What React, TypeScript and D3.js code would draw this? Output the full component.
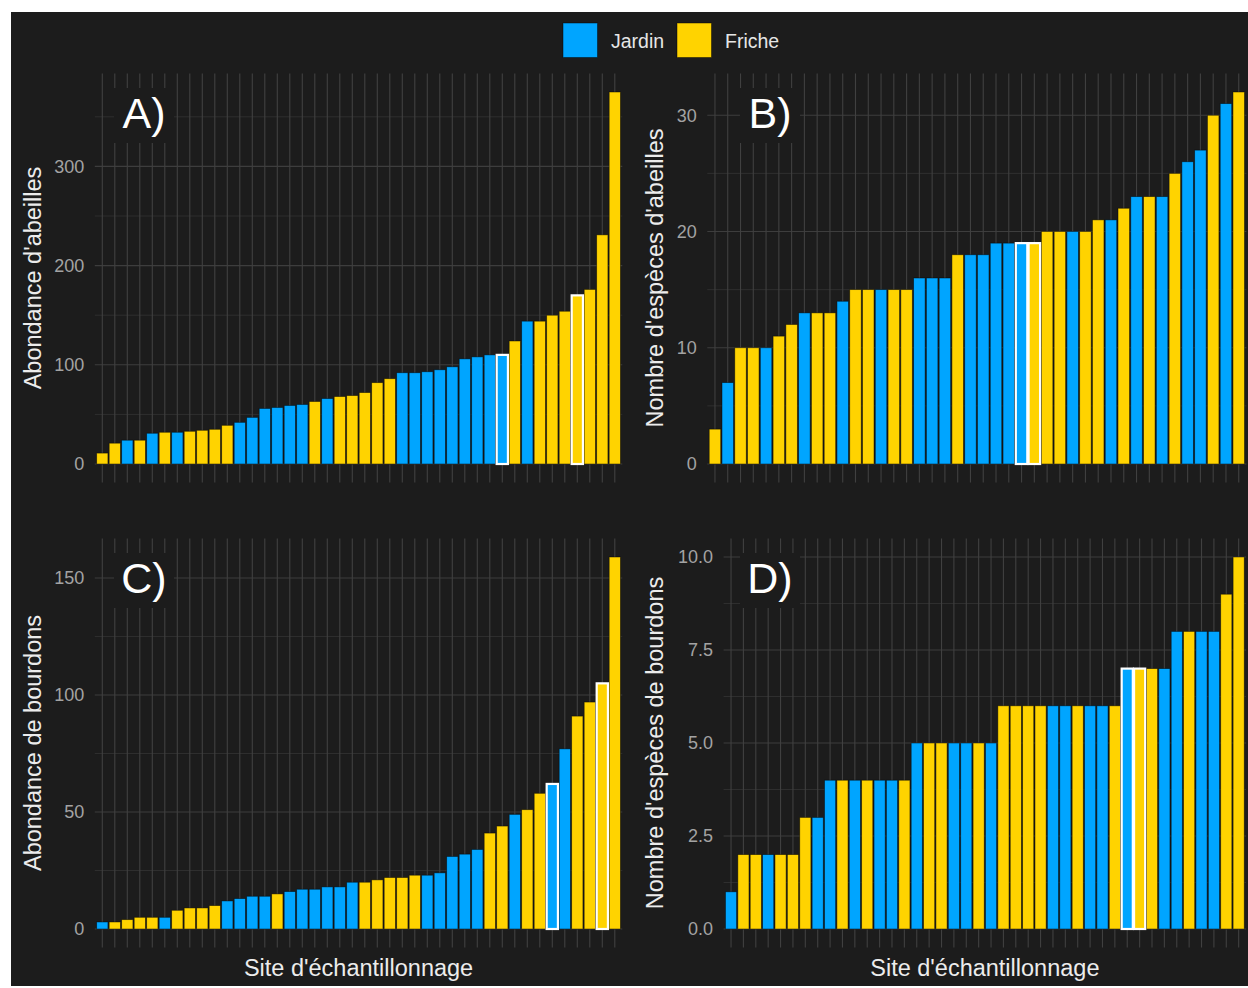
import React from "react";
import * as d3 from "d3";

// ---------- Data ----------
const groupes = ["Jardin", "Friche"];
const couleurs = ["#00A5FF", "#FFD300"];

// A) Abondance d'abeilles
const abondanceAbeilles = [11, 21, 24, 24, 31, 32, 32, 33, 34, 35, 39, 42, 47, 56, 57, 59, 60, 63, 66, 68, 69, 72, 82, 86, 92, 92, 93, 95, 98, 106, 108, 110, 110, 124, 144, 144, 150, 154, 170, 176, 231, 375];
const typeA = ["F","F","J","F","J","F","J","F","F","F","F","J","J","J","J","J","J","F","J","F","F","F","F","F","J","J","J","J","J","J","J","J","J","F","J","F","F","F","F","F","F","F"];
const surligneA = [32, 38];

// B) Nombre d'espèces d'abeilles
const especesAbeilles = [3, 7, 10, 10, 10, 11, 12, 13, 13, 13, 14, 15, 15, 15, 15, 15, 16, 16, 16, 18, 18, 18, 19, 19, 19, 19, 20, 20, 20, 20, 21, 21, 22, 23, 23, 23, 25, 26, 27, 30, 31, 32];
const typeB = ["F","J","F","F","J","F","F","J","F","F","J","F","F","J","F","F","J","J","J","F","J","J","J","J","J","F","F","F","J","F","F","J","F","J","F","J","F","J","J","F","J","F"];
const surligneB = [24, 25];

// C) Abondance de bourdons
const abondanceBourdons = [3, 3, 4, 5, 5, 5, 8, 9, 9, 10, 12, 13, 14, 14, 15, 16, 17, 17, 18, 18, 20, 20, 21, 22, 22, 23, 23, 24, 31, 32, 34, 41, 44, 49, 51, 58, 62, 77, 91, 97, 105, 159];
const typeC = ["J","F","F","F","F","J","F","F","F","F","J","J","J","J","F","J","J","J","J","J","J","F","F","F","F","F","J","J","J","J","J","F","F","J","F","F","J","J","F","F","F","F"];
const surligneC = [36, 40];

// D) Nombre d'espèces de bourdons
const especesBourdons = [1, 2, 2, 2, 2, 2, 3, 3, 4, 4, 4, 4, 4, 4, 4, 5, 5, 5, 5, 5, 5, 5, 6, 6, 6, 6, 6, 6, 6, 6, 6, 6, 7, 7, 7, 7, 8, 8, 8, 8, 9, 10];
const typeD = ["J","F","F","J","F","F","F","J","J","F","J","F","J","J","F","J","F","F","J","J","F","J","F","F","F","F","J","J","F","J","J","F","J","F","F","J","J","F","J","J","F","F"];
const surligneD = [32, 33];

const ticksA = [0, 100, 200, 300];
const ticksB = [0, 10, 20, 30];
const ticksC = [0, 50, 100, 150];
const ticksD = [0, 2.5, 5, 7.5, 10];

// ---------- Styling ----------
const BG = "#1c1c1c";
const FONT = "'Liberation Sans', Arial, Helvetica, sans-serif";
const GRID_MAJOR = "#3d3d3d";
const GRID_MINOR = "#333333";
const GRID_X = "#404040";

const panels = [
  { id: "A)", values: abondanceAbeilles, types: typeA, hl: surligneA, ticks: ticksA, fmt: (d: number) => String(d),
    left: 94.8, right: 622.3, top: 73.4, bottom: 482.6, ytitle: "Abondance d'abeilles", ytitleX: 33, xtitle: null, labelCx: 144 },
  { id: "B)", values: especesAbeilles, types: typeB, hl: surligneB, ticks: ticksB, fmt: (d: number) => String(d),
    left: 707.3, right: 1246.4, top: 73.4, bottom: 482.6, ytitle: "Nombre d'espèces d'abeilles", ytitleX: 655, xtitle: null, labelCx: 770 },
  { id: "C)", values: abondanceBourdons, types: typeC, hl: surligneC, ticks: ticksC, fmt: (d: number) => String(d),
    left: 94.8, right: 622.3, top: 538.4, bottom: 947.6, ytitle: "Abondance de bourdons", ytitleX: 33, xtitle: "Site d'échantillonnage", labelCx: 144 },
  { id: "D)", values: especesBourdons, types: typeD, hl: surligneD, ticks: ticksD, fmt: d3.format(".1f"),
    left: 723.6, right: 1246.1, top: 538.4, bottom: 947.6, ytitle: "Nombre d'espèces de bourdons", ytitleX: 655, xtitle: "Site d'échantillonnage", labelCx: 770 },
];

const color = d3.scaleOrdinal<string, string>().domain(["J", "F"]).range(couleurs);

function Panel({ p }: { p: (typeof panels)[number] }) {
  const n = p.values.length;
  const max = d3.max(p.values) as number;
  const x = d3.scaleBand<number>()
    .domain(d3.range(n))
    .range([p.left, p.right])
    .paddingInner(0.1)
    .paddingOuter(0.15);
  const y = d3.scaleLinear().domain([-0.05 * max, 1.05 * max]).range([p.bottom, p.top]);
  const step = p.ticks[1] - p.ticks[0];
  const minor = p.ticks.map((t) => t + step / 2).filter((t) => t <= 1.05 * max);
  const cy = (p.top + p.bottom) / 2;
  const cx = (p.left + p.right) / 2;
  const hlSet = new Set(p.hl);
  const order = d3.range(n).sort((a, b) => (hlSet.has(a) ? 1 : 0) - (hlSet.has(b) ? 1 : 0));
  return (
    <g>
      {minor.map((t) => (
        <line key={"mi" + t} x1={p.left} x2={p.right} y1={y(t)} y2={y(t)} stroke={GRID_MINOR} strokeWidth={0.8} />
      ))}
      {p.ticks.map((t) => (
        <line key={"ma" + t} x1={p.left} x2={p.right} y1={y(t)} y2={y(t)} stroke={GRID_MAJOR} strokeWidth={1.1} />
      ))}
      {d3.range(n).map((i) => (
        <line key={"vx" + i} x1={(x(i) as number) + x.bandwidth() / 2} x2={(x(i) as number) + x.bandwidth() / 2}
          y1={p.top} y2={p.bottom} stroke={GRID_X} strokeWidth={1.1} />
      ))}
      {order.map((i) => {
        const v = p.values[i];
        const hl = hlSet.has(i);
        return (
          <rect key={"b" + i} x={x(i)} width={x.bandwidth()} y={y(v)} height={y(0) - y(v)}
            fill={color(p.types[i])}
            stroke={hl ? "#ffffff" : "rgba(0,0,0,0.55)"}
            strokeWidth={hl ? 2.2 : 0.8} />
        );
      })}
      {p.ticks.map((t) => (
        <text key={"tl" + t} x={p.left - 10.5} y={y(t)} dy="0.35em" textAnchor="end"
          fill="#a3a3a3" fontSize={18} fontFamily={FONT}>{p.fmt(t)}</text>
      ))}
      <text transform={`translate(${p.ytitleX},${cy}) rotate(-90)`} dy="0.35em" textAnchor="middle"
        fill="#ececec" fontSize={23.5} fontFamily={FONT}>{p.ytitle}</text>
      {p.xtitle && (
        <text x={cx} y={976} textAnchor="middle" fill="#ececec" fontSize={23.5} fontFamily={FONT}>{p.xtitle}</text>
      )}
      <rect x={p.labelCx - 30} y={p.top + 14.6} width={60} height={55} fill={BG} />
      <text x={p.labelCx} y={p.top + 54.2} textAnchor="middle" fill="#ffffff" fontSize={43} fontFamily={FONT}>{p.id}</text>
    </g>
  );
}

export default function App() {
  const legendX = [563, 677];
  return (
    <svg width={1248} height={988} style={{ position: "absolute", left: 0, top: 0 }}>
      <rect x={0} y={0} width={1248} height={988} fill="#ffffff" />
      <rect x={11} y={12} width={1237} height={974} fill={BG} />
      {panels.map((p) => <Panel key={p.id} p={p} />)}
      {groupes.map((g, i) => (
        <g key={g}>
          <rect x={legendX[i]} y={23} width={34.5} height={34.5} fill={couleurs[i]} stroke="rgba(0,0,0,0.55)" strokeWidth={0.8} />
          <text x={legendX[i] + 48} y={47.5} fill="#e6e6e6" fontSize={19.5} fontFamily={FONT}>{g}</text>
        </g>
      ))}
    </svg>
  );
}
